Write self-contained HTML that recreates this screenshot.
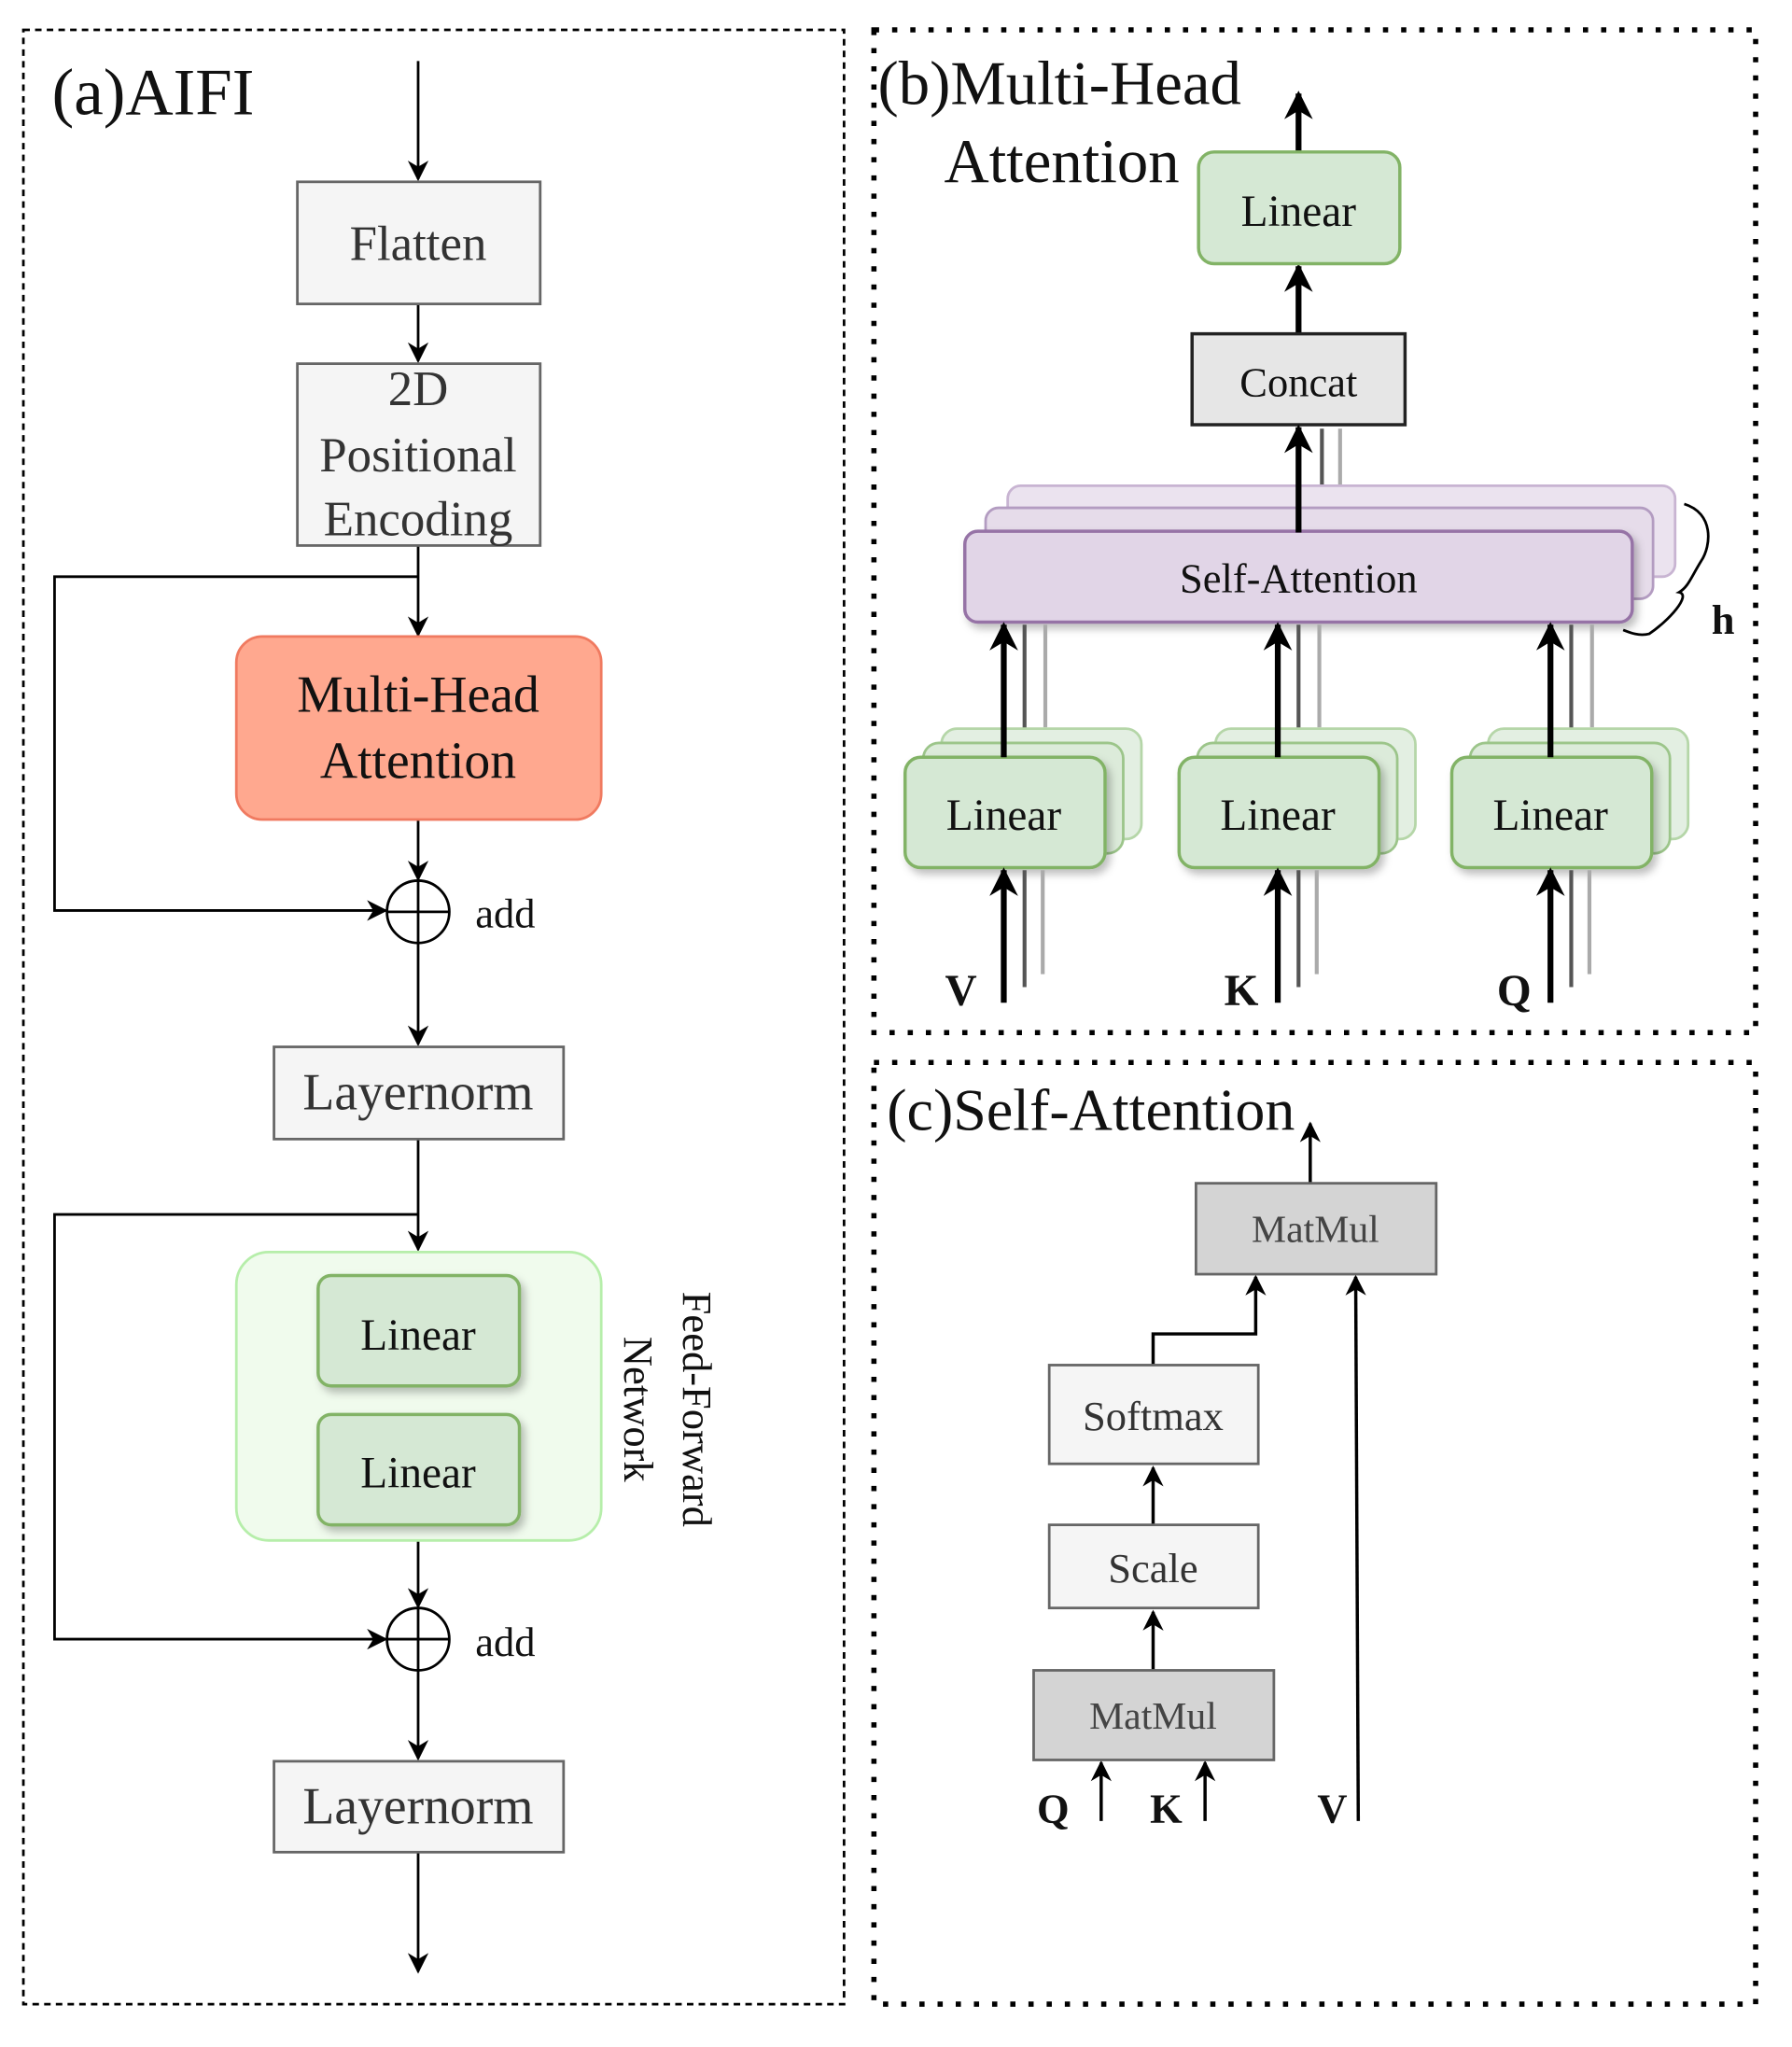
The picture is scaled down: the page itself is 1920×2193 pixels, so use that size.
<!DOCTYPE html>
<html><head><meta charset="utf-8"><style>html,body{margin:0;padding:0;background:#fff}svg{display:block}</style></head>
<body>
<svg width="1920" height="2193" viewBox="0 0 1380 1576" preserveAspectRatio="none" xmlns="http://www.w3.org/2000/svg" font-family="Liberation Serif, serif">
<defs>
<marker id="a" viewBox="0 0 10 10" refX="9" refY="5" markerWidth="9" markerHeight="9" markerUnits="userSpaceOnUse" orient="auto"><path d="M0,0 L10,5 L0,10 L3,5z" fill="#000"/></marker>
<marker id="b" viewBox="0 0 10 10" refX="9" refY="5" markerWidth="22" markerHeight="22" markerUnits="userSpaceOnUse" orient="auto"><path d="M0,0 L10,5 L0,10 L3,5z" fill="#000"/></marker>
<marker id="c" viewBox="0 0 10 10" refX="9" refY="5" markerWidth="16" markerHeight="16" markerUnits="userSpaceOnUse" orient="auto"><path d="M0,0 L10,5 L0,10 L3,5z" fill="#000"/></marker>
<filter id="s" x="-10%" y="-10%" width="130%" height="140%"><feDropShadow dx="3" dy="4" stdDeviation="3" flood-color="#000" flood-opacity="0.25"/></filter>
</defs>
<rect width="1380" height="1576" fill="#fff"/>
<rect x="18" y="23" width="632" height="1520" fill="none" stroke="#000" stroke-width="2" stroke-dasharray="5,4"/>
<rect x="673" y="23" width="679" height="772" fill="none" stroke="#000" stroke-width="4" stroke-dasharray="4,10"/>
<rect x="673" y="818" width="679" height="725" fill="none" stroke="#000" stroke-width="4" stroke-dasharray="4,10"/>

<text x="40" y="88" font-size="51" fill="#111">(a)AIFI</text>
<g stroke="#000" stroke-width="2" fill="none">
<line x1="322" y1="47" x2="322" y2="138" marker-end="url(#c)"/>
<line x1="322" y1="234" x2="322" y2="278" marker-end="url(#c)"/>
<line x1="322" y1="420" x2="322" y2="489" marker-end="url(#c)"/>
<polyline points="322,444 42,444 42,701 297,701" marker-end="url(#c)"/>
<line x1="322" y1="631" x2="322" y2="677" marker-end="url(#c)"/>
<line x1="322" y1="726" x2="322" y2="804" marker-end="url(#c)"/>
<line x1="322" y1="877" x2="322" y2="962" marker-end="url(#c)"/>
<polyline points="322,935 42,935 42,1262 297,1262" marker-end="url(#c)"/>
<line x1="322" y1="1186" x2="322" y2="1237" marker-end="url(#c)"/>
<line x1="322" y1="1286" x2="322" y2="1354" marker-end="url(#c)"/>
<line x1="322" y1="1426" x2="322" y2="1518" marker-end="url(#c)"/>
<circle cx="322" cy="702" r="24"/><line x1="298" y1="702" x2="346" y2="702"/><line x1="322" y1="678" x2="322" y2="726"/>
<circle cx="322" cy="1262" r="24"/><line x1="298" y1="1262" x2="346" y2="1262"/><line x1="322" y1="1238" x2="322" y2="1286"/>
</g>
<rect x="229" y="140" width="187" height="94" fill="#f5f5f5" stroke="#666" stroke-width="2"/>
<text x="322" y="200" font-size="38" text-anchor="middle" fill="#333">Flatten</text>
<rect x="229" y="280" width="187" height="140" fill="#f5f5f5" stroke="#666" stroke-width="2"/>
<text x="322" y="312" font-size="38" text-anchor="middle" fill="#333">2D</text>
<text x="322" y="363" font-size="38" text-anchor="middle" fill="#333">Positional</text>
<text x="322" y="412" font-size="38" text-anchor="middle" fill="#333">Encoding</text>
<rect x="182" y="490" width="281" height="141" rx="20" fill="#ffa88f" stroke="#f07a60" stroke-width="2"/>
<text x="322" y="548" font-size="40" text-anchor="middle" fill="#111">Multi-Head</text>
<text x="322" y="599" font-size="40" text-anchor="middle" fill="#111">Attention</text>
<text x="366" y="714" font-size="32" fill="#111">add</text>
<text x="366" y="1275" font-size="32" fill="#111">add</text>
<rect x="211" y="806" width="223" height="71" fill="#f5f5f5" stroke="#666" stroke-width="2"/>
<text x="322" y="854" font-size="40" text-anchor="middle" fill="#333">Layernorm</text>
<rect x="211" y="1356" width="223" height="70" fill="#f5f5f5" stroke="#666" stroke-width="2"/>
<text x="322" y="1404" font-size="40" text-anchor="middle" fill="#333">Layernorm</text>
<rect x="182" y="964" width="281" height="222" rx="25" fill="#f0fbed" stroke="#b6eeaa" stroke-width="2"/>
<rect x="245" y="982" width="155" height="85" rx="10" fill="#d5e8d4" stroke="#82b366" stroke-width="2.5" filter="url(#s)"/>
<text x="322" y="1039" font-size="34" text-anchor="middle" fill="#111">Linear</text>
<rect x="245" y="1089" width="155" height="85" rx="10" fill="#d5e8d4" stroke="#82b366" stroke-width="2.5" filter="url(#s)"/>
<text x="322" y="1145" font-size="34" text-anchor="middle" fill="#111">Linear</text>
<text transform="translate(526,1085) rotate(90)" font-size="32" text-anchor="middle" fill="#111">Feed-Forward</text>
<text transform="translate(481,1085) rotate(90)" font-size="32" text-anchor="middle" fill="#111">Network</text>

<text x="676" y="80" font-size="48" fill="#111">(b)Multi-Head</text>
<text x="727" y="140" font-size="48" fill="#111">Attention</text>
<g stroke="#000" stroke-width="4.5" fill="none">
<line x1="1000" y1="117" x2="1000" y2="72" marker-end="url(#b)"/>
<line x1="1000" y1="257" x2="1000" y2="205" marker-end="url(#b)"/>
</g>
<rect x="923" y="117" width="155" height="86" rx="12" fill="#d5e8d4" stroke="#82b366" stroke-width="2.5"/>
<text x="1000" y="174" font-size="34" text-anchor="middle" fill="#111">Linear</text>
<g stroke-width="3"><line x1="1018" y1="330" x2="1018" y2="392" stroke="#555"/><line x1="1032" y1="330" x2="1032" y2="375" stroke="#aaa"/></g>
<rect x="918" y="257" width="164" height="70" fill="#e6e6e6" stroke="#222" stroke-width="2.5"/>
<text x="1000" y="305" font-size="32" text-anchor="middle" fill="#111">Concat</text>
<rect x="776" y="374" width="514" height="70" rx="10" fill="#ebe3ef" stroke="#c8b4d2" stroke-width="2"/>
<rect x="759" y="391" width="514" height="70" rx="10" fill="#e6dcea" stroke="#b39cc1" stroke-width="2"/>
<rect x="743" y="409" width="514" height="70" rx="10" fill="#e1d5e7" stroke="#9673a6" stroke-width="2.5" filter="url(#s)"/>
<line x1="1000" y1="410" x2="1000" y2="329" stroke="#000" stroke-width="4.5" marker-end="url(#b)"/>
<text x="1000" y="456" font-size="32" text-anchor="middle" fill="#111">Self-Attention</text>
<path d="M1297,388 C1320,395 1318,420 1310,432 C1302,445 1300,452 1293,456 C1303,458 1285,478 1270,488 C1262,490 1255,487 1250,485" fill="none" stroke="#000" stroke-width="2"/>
<text x="1318" y="488" font-size="32" font-weight="bold" fill="#111">h</text>

<g id="col">
<line x1="789" y1="481" x2="789" y2="570" stroke="#555" stroke-width="3"/>
<line x1="805" y1="481" x2="805" y2="560" stroke="#aaa" stroke-width="3"/>
<rect x="725" y="561" width="154" height="85" rx="12" fill="#e3efe2" stroke="#b5d6a8" stroke-width="2"/>
<rect x="711" y="572" width="154" height="85" rx="12" fill="#dcebda" stroke="#9cc58a" stroke-width="2"/>
<rect x="697" y="583" width="154" height="85" rx="12" fill="#d5e8d4" stroke="#82b366" stroke-width="2.5" filter="url(#s)"/>
<text x="773" y="639" font-size="34" text-anchor="middle" fill="#111">Linear</text>
<line x1="773" y1="583" x2="773" y2="481" stroke="#000" stroke-width="4.5" marker-end="url(#b)"/>
<line x1="789" y1="670" x2="789" y2="760" stroke="#555" stroke-width="3"/>
<line x1="803" y1="670" x2="803" y2="750" stroke="#aaa" stroke-width="3"/>
<line x1="773" y1="772" x2="773" y2="670" stroke="#000" stroke-width="4.5" marker-end="url(#b)"/>
</g>
<use href="#col" x="211"/>
<use href="#col" x="421"/>
<text x="740" y="774" font-size="34" font-weight="bold" text-anchor="middle" fill="#111">V</text>
<text x="956" y="774" font-size="34" font-weight="bold" text-anchor="middle" fill="#111">K</text>
<text x="1166" y="774" font-size="34" font-weight="bold" text-anchor="middle" fill="#111">Q</text>

<text x="683" y="870" font-size="46" fill="#111">(c)Self-Attention</text>
<g stroke="#000" stroke-width="2.5" fill="none">
<line x1="1009" y1="911" x2="1009" y2="865" marker-end="url(#c)"/>
<polyline points="888,1051 888,1027 967,1027 967,983" marker-end="url(#c)"/>
<line x1="888" y1="1174" x2="888" y2="1130" marker-end="url(#c)"/>
<line x1="888" y1="1286" x2="888" y2="1241" marker-end="url(#c)"/>
<line x1="848" y1="1402" x2="848" y2="1357" marker-end="url(#c)"/>
<line x1="928" y1="1402" x2="928" y2="1357" marker-end="url(#c)"/>
<line x1="1046" y1="1402" x2="1044" y2="983" marker-end="url(#c)"/>
</g>
<rect x="921" y="911" width="185" height="70" fill="#d4d4d4" stroke="#666" stroke-width="2"/>
<text x="1013" y="956" font-size="30" text-anchor="middle" fill="#444">MatMul</text>
<rect x="808" y="1051" width="161" height="76" fill="#f5f5f5" stroke="#666" stroke-width="2"/>
<text x="888" y="1101" font-size="32" text-anchor="middle" fill="#333">Softmax</text>
<rect x="808" y="1174" width="161" height="64" fill="#f5f5f5" stroke="#666" stroke-width="2"/>
<text x="888" y="1218" font-size="32" text-anchor="middle" fill="#333">Scale</text>
<rect x="796" y="1286" width="185" height="69" fill="#d4d4d4" stroke="#666" stroke-width="2"/>
<text x="888" y="1331" font-size="30" text-anchor="middle" fill="#444">MatMul</text>
<text x="811" y="1403" font-size="32" font-weight="bold" text-anchor="middle" fill="#111">Q</text>
<text x="898" y="1403" font-size="32" font-weight="bold" text-anchor="middle" fill="#111">K</text>
<text x="1026" y="1403" font-size="32" font-weight="bold" text-anchor="middle" fill="#111">V</text>
</svg>
</body></html>
